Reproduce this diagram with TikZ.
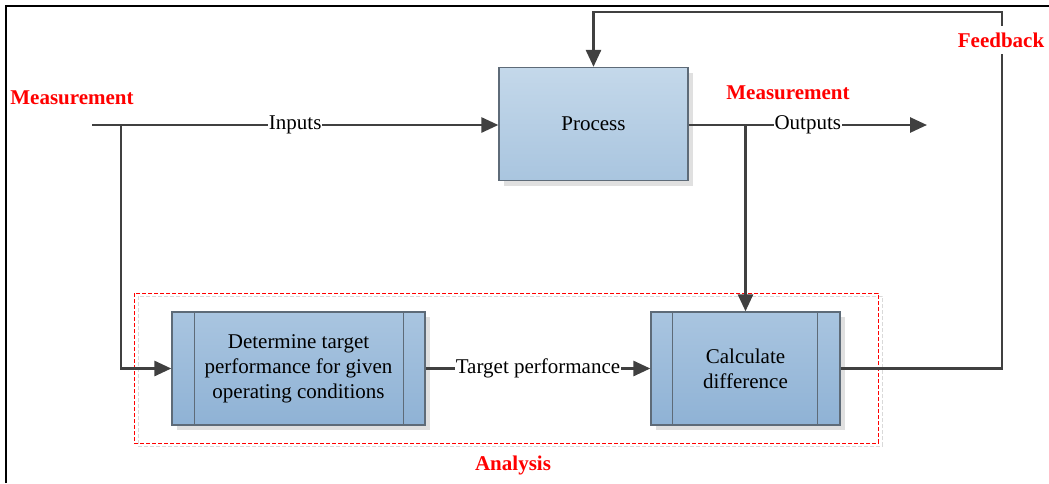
\documentclass[tikz,border=0pt]{standalone}
\usepackage{fontspec}
\setmainfont{Liberation Serif}
\usetikzlibrary{arrows.meta,shadows,calc}

\definecolor{linegray}{HTML}{404040}
\definecolor{boxedge}{HTML}{5E6B78}
\definecolor{proctop}{HTML}{C4D8EA}
\definecolor{procbot}{HTML}{A9C5DF}
\definecolor{subtop}{HTML}{A9C5E0}
\definecolor{subbot}{HTML}{8FB2D5}
\definecolor{labelred}{HTML}{FF0000}

\begin{document}
\begin{tikzpicture}[x=1pt,y=-1pt,
  every node/.style={font=\fontsize{21}{25}\selectfont},
  conn/.style={draw=linegray,line width=2.8pt,
    -{Triangle[length=17pt,width=15pt]}},
  plain/.style={draw=linegray,line width=2.8pt},
  boxshadow/.style={drop shadow={shadow xshift=5pt,shadow yshift=-5pt,
    fill=black!12,opacity=1}},
  procbox/.style={draw=boxedge,line width=1.3pt,top color=proctop,
    bottom color=procbot,boxshadow,minimum width=189pt,minimum height=113pt,
    align=center,inner sep=0pt},
  subbox/.style={draw=boxedge,line width=1.3pt,top color=subtop,
    bottom color=subbot,boxshadow,minimum height=113pt,align=center,
    inner sep=0pt},
  sideline/.style={draw=boxedge,line width=1.3pt},
  onlabel/.style={fill=white,inner xsep=1pt,inner ysep=2pt},
  redlabel/.style={text=labelred,font=\fontsize{21}{25}\selectfont\bfseries},
]
\useasboundingbox (0,0) rectangle (1049,483);

% outer frame
\draw[black,line width=2pt] (6,483) -- (6,6) -- (1049,6);

% analysis region
\draw[black!15,line width=1pt,dash pattern=on 4pt off 2pt]
  (138,296) rectangle (882,446);
\draw[labelred,line width=1pt,dash pattern=on 4pt off 2pt]
  (134,293) rectangle (878,443);
\node[redlabel] (analysis) at (513,465) {Analysis};

% blocks
\node[procbox] (proc) at (593.5,124) {Process};
\node[subbox,minimum width=253pt] (det) at (298.5,368.5)
  {Determine target\\performance for given\\operating conditions};
\node[subbox,minimum width=189pt] (calc) at (745.5,368.5)
  {Calculate\\difference};

\draw[sideline] ($(det.north west)+(23,0)$) -- ($(det.south west)+(23,0)$);
\draw[sideline] ($(det.north east)+(-22,0)$) -- ($(det.south east)+(-22,0)$);
\draw[sideline] ($(calc.north west)+(22,0)$) -- ($(calc.south west)+(22,0)$);
\draw[sideline] ($(calc.north east)+(-23,0)$) -- ($(calc.south east)+(-23,0)$);

% connection points
\coordinate (instart) at (92,125);
\coordinate (inbranch) at (121,125);
\coordinate (outbranch) at (745.5,125);
\coordinate (outend) at (927,125);
\coordinate (fbcorner) at (1002,12);

% inputs
\draw[conn] (instart) -- node[onlabel] (inputs) {Inputs} (instart -| proc.west);
\draw[conn] (inbranch) |- (det.west);

% outputs
\draw[conn] (proc.east |- outend) -- node[onlabel] (outputs) {Outputs} (outend);
\draw[conn] (outbranch) -- (calc.north);

% target performance
\draw[conn] (det.east) -- node[onlabel] (target) {Target performance} (calc.west);

% feedback loop
\draw[conn] (calc.east) -| (fbcorner) -| (proc.north);
\node[redlabel,fill=white,inner xsep=1pt,inner ysep=7pt] (feedback) at (1001,40) {Feedback};

% measurement labels
\node[redlabel] (measin) at (72,98) {Measurement};
\node[redlabel] (measout) at (788,93) {Measurement};
\end{tikzpicture}
\end{document}
